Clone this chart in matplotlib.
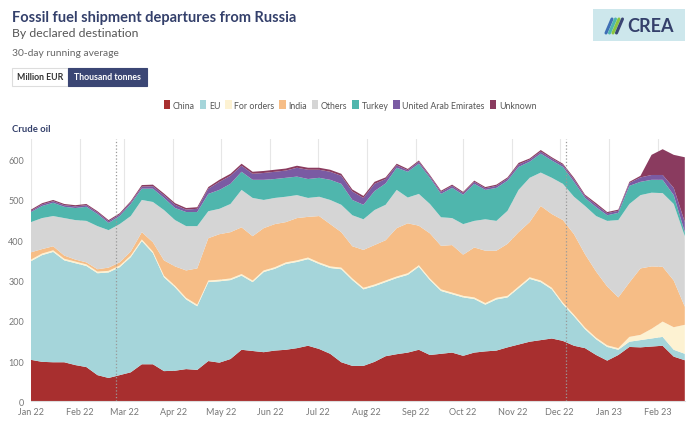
import matplotlib
matplotlib.use("Agg")
import matplotlib.pyplot as plt
import matplotlib.dates as mdates
from matplotlib.patches import Rectangle, Patch
import pandas as pd

plt.rcParams['font.family'] = ['Lato', 'DejaVu Sans']

# weekly readings, 1 Jan 2022 .. 18 Feb 2023 (thousand tonnes, 30-day avg)
dates = pd.date_range("2022-01-01", periods=60, freq="7D")

china = [103, 98, 97, 97, 90, 85, 65, 58, 65, 72, 92, 92, 75, 76, 80, 78, 100, 96, 105, 128,
         125, 122, 126, 128, 132, 138, 130, 118, 97, 88, 88, 98, 112, 117, 121, 128, 115, 118, 121, 113,
         121, 124, 126, 134, 141, 148, 152, 156, 150, 138, 132, 115, 101, 115, 135, 134, 136, 138, 111, 102]
eu = [245, 265, 274, 253, 253, 251, 253, 262, 268, 286, 306, 276, 233, 207, 173, 158, 196, 202, 196, 184,
      171, 199, 203, 213, 214, 215, 211, 213, 231, 213, 190, 188, 184, 189, 193, 206, 186, 156, 145, 145,
      133, 116, 127, 124, 140, 156, 144, 122, 91, 73, 47, 39, 34, 13, 13, 18, 20, 22, 17, 16]
for_orders = [4] * 54 + [12, 13, 24, 38, 56, 72]
india = [18, 11, 10, 8, 5, 5, 6, 8, 8, 10, 18, 23, 38, 48, 68, 90, 105, 113, 115, 116,
         110, 105, 107, 100, 105, 101, 115, 105, 88, 80, 94, 98, 100, 120, 124, 98, 112, 108, 118, 102,
         124, 130, 117, 129, 135, 137, 185, 183, 205, 200, 182, 164, 146, 126, 135, 165, 155, 136, 116, 45]
others = [75, 77, 75, 93, 98, 103, 107, 93, 95, 88, 80, 100, 125, 115, 110, 105, 67, 63, 70, 93,
          95, 70, 65, 63, 57, 47, 48, 60, 68, 77, 76, 87, 88, 95, 64, 79, 73, 71, 67, 76,
          66, 78, 74, 82, 105, 110, 83, 90, 90, 93, 120, 138, 163, 192, 195, 182, 183, 183, 190, 175]
turkey = [25, 30, 33, 28, 30, 35, 30, 18, 20, 30, 28, 33, 30, 30, 35, 35, 43, 47, 50, 45,
          45, 50, 47, 47, 46, 47, 47, 50, 52, 38, 36, 47, 53, 55, 64, 75, 65, 58, 75, 73,
          92, 73, 82, 75, 57, 40, 47, 43, 42, 37, 20, 22, 14, 18, 45, 33, 32, 33, 22, 10]
uae = [3, 4, 4, 4, 4, 4, 4, 4, 4, 4, 5, 6, 7, 8, 6, 8, 13, 20, 20, 15,
       15, 17, 18, 18, 22, 23, 20, 20, 20, 21, 17, 18, 11, 6, 4, 5, 4, 5, 5, 4,
       5, 4, 5, 5, 6, 5, 5, 5, 5, 6, 5, 6, 5, 5, 7, 11, 12, 12, 18, 25]
unknown = [3, 3, 3, 3, 3, 3, 3, 3, 3, 3, 4, 4, 4, 4, 4, 4, 4, 5, 5, 5,
           5, 5, 5, 5, 5, 5, 5, 5, 5, 5, 5, 5, 4, 4, 3, 3, 3, 3, 3, 3,
           3, 3, 3, 3, 4, 3, 4, 3, 3, 4, 3, 4, 3, 3, 3, 4, 50, 64, 82, 161]

labels = ["China", "EU", "For orders", "India", "Others", "Turkey", "United Arab Emirates", "Unknown"]
colors = ["#a82f2f", "#a5d5da", "#fdf2d2", "#f6bd86", "#d5d5d5", "#4fb6ad", "#7a5ba3", "#8a3b5f"]
events = ["2022-02-24", "2022-12-05"]

NAVY = "#34406b"

fig = plt.figure(figsize=(7, 4.27), dpi=100)
ax = fig.add_axes([0.0443, 0.0578, 0.934, 0.614])

ax.stackplot(dates, china, eu, for_orders, india, others, turkey, uae, unknown,
             colors=colors, linewidth=0, zorder=2)

for ev in events:
    ax.axvline(pd.Timestamp(ev), color="#999999", linestyle=":", linewidth=0.9, zorder=3)

ax.set_xlim(dates[0], dates[-1])
ax.set_ylim(0, 651)
ax.set_yticks(range(0, 700, 100))
ax.xaxis.set_major_locator(mdates.MonthLocator())
ax.xaxis.set_major_formatter(mdates.DateFormatter("%b %y"))
ax.grid(axis="x", color="#e6e6e6", linewidth=0.8, zorder=0)
ax.set_axisbelow(True)
for s in ["top", "right", "left"]:
    ax.spines[s].set_visible(False)
ax.spines["bottom"].set_color("#dddddd")
ax.tick_params(axis="both", length=0, labelsize=6.5, labelcolor="#777777")
ax.tick_params(axis="y", pad=5)
ax.tick_params(axis="x", pad=4)

# titles
fig.text(0.017, 0.949, "Fossil fuel shipment departures from Russia", fontsize=10.5,
         fontweight="bold", color=NAVY, va="baseline")
fig.text(0.017, 0.913, "By declared destination", fontsize=8.8, color="#555555", va="baseline")
fig.text(0.017, 0.870, "30-day running average", fontsize=7.4, color="#666666", va="baseline")

# unit buttons
fig.patches.append(Rectangle((12 / 700, 1 - 87 / 427), 56 / 700, 18 / 427, transform=fig.transFigure,
                             facecolor="white", edgecolor="#dddddd", linewidth=0.8))
fig.patches.append(Rectangle((68 / 700, 1 - 87 / 427), 79 / 700, 18 / 427, transform=fig.transFigure,
                             facecolor="#3b4674", edgecolor="#3b4674", linewidth=0.8))
fig.text(40 / 700, 1 - 78 / 427, "Million EUR", fontsize=6.3, fontweight="bold", color="#333333",
         ha="center", va="center")
fig.text(107.5 / 700, 1 - 78 / 427, "Thousand tonnes", fontsize=6.3, fontweight="bold", color="white",
         ha="center", va="center")

# legend
handles = [Patch(facecolor=c, edgecolor="none") for c in colors]
leg = fig.legend(handles, labels, loc="center", bbox_to_anchor=(350 / 700, 1 - 106 / 427), ncol=8,
                 frameon=False, fontsize=6.3, handlelength=0.75, handleheight=1.15,
                 handletextpad=0.3, columnspacing=0.55, borderpad=0)
for t in leg.get_texts():
    t.set_color("#555555")

fig.text(0.017, 1 - 132 / 427, "Crude oil", fontsize=6.8, fontweight="bold", color=NAVY, va="baseline")

# CREA logo
fig.patches.append(Rectangle((593 / 700, 1 - 42 / 427), 92 / 700, 32 / 427, transform=fig.transFigure,
                             facecolor="#cde7ec", edgecolor="none"))
for i, c in enumerate(["#3f6fb5", "#4fb6ad", "#8cc63f", "#3b4674"]):
    x0 = 606 + i * 3.5
    fig.lines.append(plt.Line2D([x0 / 700, (x0 + 6) / 700], [1 - 34 / 427, 1 - 20 / 427],
                                transform=fig.transFigure, color=c, linewidth=2.2,
                                solid_capstyle="round"))
fig.text(650 / 700, 1 - 26.5 / 427, "CREA", fontsize=13, fontweight="bold", color=NAVY,
         ha="center", va="center")

fig.savefig("out.png", dpi=100)
